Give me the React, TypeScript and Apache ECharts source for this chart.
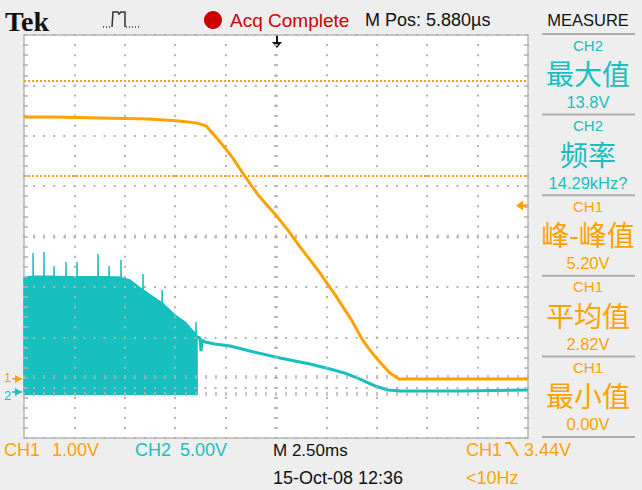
import React, { useEffect, useRef } from 'react';
import * as echarts from 'echarts';

// ---- Data (time in ms, voltage in V) ----
const ch1Trace: [number, number][] = [
  [0, 5.2], [1.5, 5.2], [3.8, 5.18], [6.2, 5.16], [7.7, 5.12], [8.6, 5.08], [9.05, 5.02],
  [9.7, 4.72], [10.3, 4.42], [10.95, 4.03], [11.6, 3.66], [12.5, 3.25], [13.1, 2.95],
  [13.7, 2.62], [14.6, 2.15], [15.5, 1.63], [16.2, 1.2], [16.8, 0.77], [17.3, 0.5],
  [17.65, 0.34], [18.15, 0.12], [18.6, 0.0], [21.0, 0.0], [25, 0.0],
];

const ch2Burst: [number, number][] = [
  [0, -0.3], [0, 11.41], [0.45, 11.5], [0.45, 13.79], [0.46, 11.5], [0.99, 11.5], [0.99, 13.89],
  [1.0, 11.5], [1.49, 11.5], [1.49, 12.5], [1.5, 11.5], [2.08, 11.45], [2.08, 12.9], [2.09, 11.45],
  [2.63, 11.45], [2.63, 12.9], [2.64, 11.45], [3.67, 11.45], [3.67, 13.69], [3.68, 11.45],
  [4.22, 11.45], [4.22, 12.5], [4.23, 11.45], [4.81, 11.4], [4.81, 13.1], [4.82, 11.4],
  [4.91, 11.3], [5.26, 11.11], [5.9, 10.12], [5.9, 11.71], [5.91, 10.12], [6.5, 9.33],
  [6.85, 8.83], [6.85, 10.12], [6.86, 8.83], [7.49, 7.64], [7.99, 6.94], [8.38, 6.05],
  [8.53, 5.85], [8.53, 6.94], [8.54, 5.85], [8.58, 5.46], [8.59, -0.3],
];

const ch2Trace: [number, number][] = [
  [8.58, 5.46], [8.73, 5.36], [8.78, 4.07], [8.83, 5.16], [8.98, 4.96], [9.47, 4.76],
  [10.22, 4.56], [11.21, 4.07], [12.7, 3.37], [14.19, 2.78], [15.18, 2.28], [15.92, 1.88],
  [16.67, 1.29], [17.41, 0.6], [18.06, 0.2], [18.65, 0.1], [21.63, 0.1], [25, 0.2],
];

const ch1Cursors = [5.93, 4.03];
const ch1TriggerLevel = 3.44;

const measureChannels = ['CH2', 'CH2', 'CH1', 'CH1', 'CH1'];
const measureNames = ['最大值', '频率', '峰-峰值', '平均值', '最小值'];
const measureValues = ['13.8V', '14.29kHz?', '5.20V', '2.82V', '0.00V'];

const CH1 = '#FFA200';
const CH2 = '#17BFBF';
const GRID = { left: 24, top: 35, width: 504, height: 403 };
const DIV = 50.4;
const CH1_GROUND_Y = 379;
const CH2_GROUND_Y = 392;
const CH1_VOLTS_PER_DIV = 1;
const CH2_VOLTS_PER_DIV = 5;

const ch1Min = -((GRID.top + GRID.height - CH1_GROUND_Y) / DIV) * CH1_VOLTS_PER_DIV;
const ch2Min = -((GRID.top + GRID.height - CH2_GROUND_Y) / DIV) * CH2_VOLTS_PER_DIV;

const SANS = 'Liberation Sans';
const CJK = 'Noto Sans CJK SC';
const GRAY = '#b2b2b2';

function txt(text: string, x: number, y: number, size: number, fill: string, align = 'left', family = SANS, weight = 'normal') {
  return {
    type: 'text', x, y,
    style: { text, fontSize: size, fontFamily: family, fontWeight: weight, fill, align, verticalAlign: 'middle' },
  };
}

export default function App() {
  const ref = useRef<HTMLDivElement>(null);
  useEffect(() => {
    if (!ref.current) return;
    const chart = echarts.init(ref.current, undefined, { renderer: 'svg' });

    const graphics: any[] = [];
    // Top bar
    graphics.push(txt('Tek', 5, 21, 28, '#111', 'left', 'Liberation Serif', 'bold'));
    graphics.push({ type: 'line', shape: { x1: 103, y1: 27, x2: 112, y2: 27 }, style: { stroke: '#333', lineWidth: 1.5, lineDash: [1, 2] } });
    graphics.push({ type: 'polyline', shape: { points: [[112, 27], [113, 12], [118, 12], [119, 14], [121, 12], [125, 12], [125, 27]] }, style: { stroke: '#333', lineWidth: 1.5, fill: null } });
    graphics.push({ type: 'line', shape: { x1: 126, y1: 27, x2: 140, y2: 27 }, style: { stroke: '#333', lineWidth: 1.5, lineDash: [1, 2] } });
    graphics.push({ type: 'circle', shape: { cx: 213, cy: 20, r: 9 }, style: { fill: '#cc0000' } });
    graphics.push(txt('Acq Complete', 230, 20, 19, '#cc0000'));
    graphics.push(txt('M Pos: 5.880µs', 365, 20, 18, '#111'));
    graphics.push(txt('MEASURE', 588, 20, 16.5, '#111', 'center'));

    // Measure panel
    for (let i = 0; i < 6; i++) {
      const y = 34 + i * 80.6;
      graphics.push({ type: 'line', shape: { x1: 542, y1: y, x2: 635, y2: y }, style: { stroke: '#ababab', lineWidth: 2 } });
    }
    measureNames.forEach((name, i) => {
      const top = 34 + i * 80.6;
      const color = measureChannels[i] === 'CH1' ? CH1 : CH2;
      graphics.push(txt(measureChannels[i], 588, top + 11, 15, color, 'center'));
      graphics.push(txt(name, 588, top + 39, 28, color, 'center', CJK));
      graphics.push(txt(measureValues[i], 588, top + 68, 16.5, color, 'center'));
    });

    // Bottom status
    graphics.push(txt('CH1', 4, 450, 18, CH1));
    graphics.push(txt('1.00V', 52, 450, 18, CH1));
    graphics.push(txt('CH2', 135, 450, 18, CH2));
    graphics.push(txt('5.00V', 180, 450, 18, CH2));
    graphics.push(txt('M 2.50ms', 273, 450, 17, '#111'));
    graphics.push(txt('CH1', 466, 450, 18, CH1));
    graphics.push({ type: 'polyline', shape: { points: [[505, 443], [510, 443], [518, 456]] }, style: { stroke: CH1, lineWidth: 1.8, fill: null } });
    graphics.push(txt('3.44V', 524, 450, 18, CH1));
    graphics.push(txt('15-Oct-08 12:36', 273, 478, 18, '#111'));
    graphics.push(txt('<10Hz', 466, 478, 18, CH1));

    // Ground markers
    graphics.push(txt('1', 4, CH1_GROUND_Y - 2, 13, CH1));
    graphics.push({ type: 'line', shape: { x1: 12, y1: CH1_GROUND_Y, x2: 22, y2: CH1_GROUND_Y }, style: { stroke: CH1, lineWidth: 1.5 } });
    graphics.push({ type: 'polygon', shape: { points: [[15, CH1_GROUND_Y - 4], [22, CH1_GROUND_Y], [15, CH1_GROUND_Y + 4]] }, style: { fill: CH1 } });
    graphics.push(txt('2', 4, CH2_GROUND_Y + 3, 13, CH2));
    graphics.push({ type: 'line', shape: { x1: 12, y1: CH2_GROUND_Y, x2: 22, y2: CH2_GROUND_Y }, style: { stroke: CH2, lineWidth: 1.5 } });
    graphics.push({ type: 'polygon', shape: { points: [[15, CH2_GROUND_Y - 4], [22, CH2_GROUND_Y], [15, CH2_GROUND_Y + 4]] }, style: { fill: CH2 } });

    // Trigger level arrow (right)
    const trigY = CH1_GROUND_Y - ch1TriggerLevel * DIV / CH1_VOLTS_PER_DIV;
    graphics.push({ type: 'line', shape: { x1: 520, y1: trigY, x2: 528, y2: trigY }, style: { stroke: CH1, lineWidth: 2.5 } });
    graphics.push({ type: 'polygon', shape: { points: [[516, trigY], [523, trigY - 5], [523, trigY + 5]] }, style: { fill: CH1 } });

    // Trigger position marker (top)
    graphics.push({ type: 'line', shape: { x1: 277, y1: 35, x2: 277, y2: 43 }, style: { stroke: '#111', lineWidth: 2 } });
    graphics.push({ type: 'polygon', shape: { points: [[272, 42], [282, 42], [277, 48]] }, style: { fill: '#111' } });

    const tickStyle = { color: GRAY, width: 1.5 };
    const frameX = (extra: any) => ({
      type: 'value', min: 0, max: 25, interval: 2.5,
      axisLine: { show: false },
      axisLabel: { show: false },
      axisTick: { show: true, inside: true, length: 4, lineStyle: tickStyle },
      minorTick: { show: true, splitNumber: 5, length: 4, lineStyle: tickStyle },
      splitLine: { show: false },
      z: 3,
      ...extra,
    });
    const frameY = (extra: any) => ({
      type: 'value', min: 0, max: 8, interval: 1,
      axisLine: { show: false },
      axisLabel: { show: false },
      axisTick: { show: true, inside: true, length: 4, lineStyle: tickStyle },
      minorTick: { show: true, splitNumber: 5, length: 4, lineStyle: tickStyle },
      splitLine: { show: false },
      z: 3,
      ...extra,
    });

    chart.setOption({
      animation: false,
      backgroundColor: '#eeeeee',
      grid: { ...GRID, show: true, backgroundColor: '#ffffff', borderColor: '#b8b8b8', borderWidth: 1.5, containLabel: false },
      xAxis: [
        frameX({ position: 'bottom', splitLine: { show: true, lineStyle: { color: GRAY, width: 2, type: [2, 8.08], dashOffset: 1 } } }),
        frameX({ position: 'top' }),
        frameX({ position: 'bottom', offset: -199.5 }),
      ],
      yAxis: [
        { type: 'value', min: ch1Min, max: ch1Min + 8 * CH1_VOLTS_PER_DIV, show: false },
        { type: 'value', min: ch2Min, max: ch2Min + 8 * CH2_VOLTS_PER_DIV, show: false },
        frameY({ position: 'left', splitLine: { show: true, lineStyle: { color: GRAY, width: 2, type: [2, 8.08], dashOffset: 1 } } }),
        frameY({ position: 'right' }),
        frameY({ position: 'left', offset: -250 }),
      ],
      series: [
        {
          name: 'CH2 burst', type: 'line', xAxisIndex: 0, yAxisIndex: 1, data: ch2Burst,
          symbol: 'none', lineStyle: { color: CH2, width: 1.5 },
          areaStyle: { color: CH2, opacity: 1, origin: -0.3 }, z: 2, silent: true,
        },
        {
          name: 'CH2', type: 'line', xAxisIndex: 0, yAxisIndex: 1, data: ch2Trace,
          symbol: 'none', lineStyle: { color: CH2, width: 3 }, z: 2, silent: true,
        },
        {
          name: 'CH1', type: 'line', xAxisIndex: 0, yAxisIndex: 0, data: ch1Trace,
          symbol: 'none', lineStyle: { color: CH1, width: 3 }, z: 5, silent: true,
          markLine: {
            silent: true, symbol: ['none', 'none'], label: { show: false },
            lineStyle: { color: CH1, width: 2, type: [2, 2] },
            data: ch1Cursors.map((v) => ({ yAxis: v })),
          },
        },
      ],
      graphic: graphics,
    });
    return () => chart.dispose();
  }, []);
  return <div ref={ref} style={{ position: 'absolute', left: 0, top: 0, width: 642, height: 490 }} />;
}
